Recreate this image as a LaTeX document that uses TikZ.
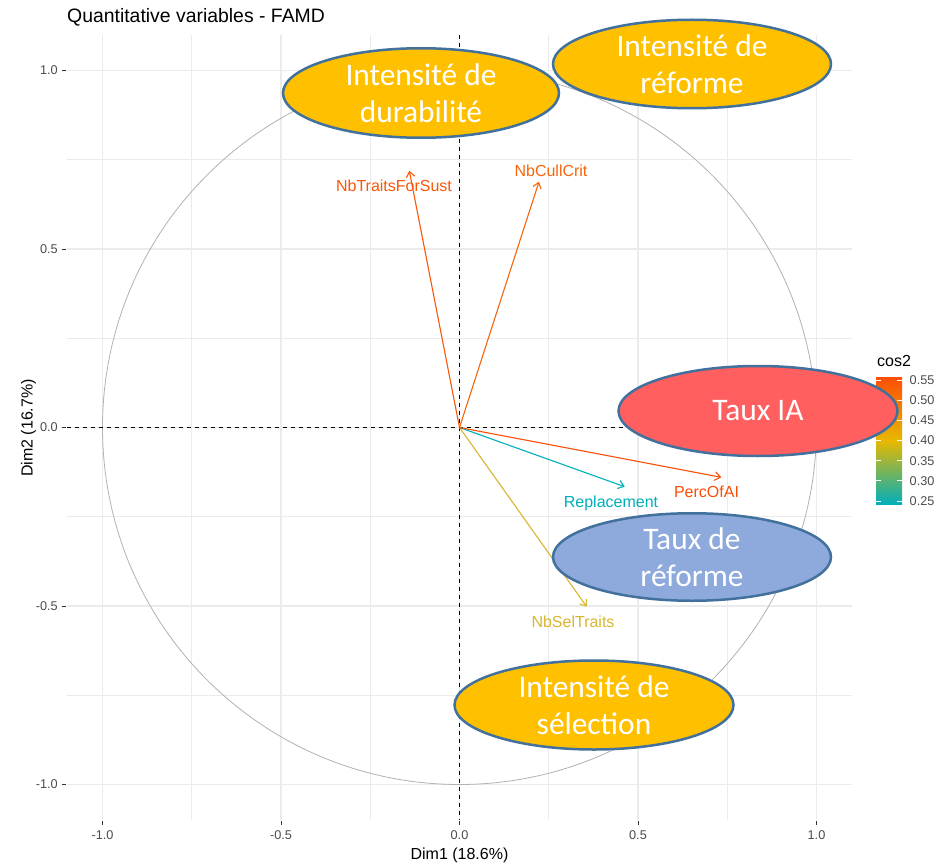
\documentclass[tikz,border=0pt]{standalone}
\usepackage{fontspec}
\setmainfont{Liberation Sans}
\newfontfamily\calib{Carlito}
\usetikzlibrary{arrows.meta,shapes.geometric}
\definecolor{cHigh}{HTML}{FC4E07}
\definecolor{cMid}{HTML}{E7B800}
\definecolor{cLow}{HTML}{00AFBB}
\definecolor{cTraits}{HTML}{F9560A}
\definecolor{cCull}{HTML}{F6650C}
\definecolor{cPerc}{HTML}{FC4E07}
\definecolor{cRepl}{HTML}{00AFBB}
\definecolor{cSel}{HTML}{D8B62F}
\definecolor{gridc}{gray}{0.92}
\definecolor{circc}{gray}{0.70}
\definecolor{ticklab}{gray}{0.30}
\definecolor{tickc}{gray}{0.20}
\definecolor{ellborder}{HTML}{41719C}
\definecolor{yel}{HTML}{FFC000}
\definecolor{redf}{HTML}{FF5F5F}
\definecolor{bluef}{HTML}{8EA9DB}
\tikzset{
  majorgrid/.style={draw=gridc, line width=1.2pt},
  minorgrid/.style={draw=gridc, line width=0.7pt},
  zeroaxis/.style={draw=black, line width=0.9pt, dash pattern=on 4pt off 4pt},
  vararrow/.style={line width=1.1pt, -{Straight Barb[length=5.5pt,width=8.5pt]}},
  varlab/.style={inner sep=0pt, anchor=base, font=\fontsize{16}{19}\selectfont},
  ticklabel/.style={inner sep=0pt, text=ticklab, font=\fontsize{12.7}{15}\selectfont},
  tickmark/.style={draw=tickc, line width=0.9pt},
  axtitle/.style={inner sep=0pt, anchor=base, font=\fontsize{16}{19}\selectfont},
  bubble/.style={ellipse, draw=ellborder, line width=2.5pt, inner sep=0pt,
    minimum width=279pt, minimum height=89pt, text=white, align=center,
    font=\calib\fontsize{31.4}{37.3}\selectfont},
  bartick/.style={draw=white, line width=0.9pt}
}
\begin{document}
\begin{tikzpicture}[x=1pt,y=-1pt]
\fill[white] (0,0) rectangle (940,864);
\useasboundingbox (0,0) rectangle (940,864);
% grid
\foreach \v in {-0.75,-0.25,0.25,0.75}{
  \draw[minorgrid] ({459.5+357*\v},34.8) -- ({459.5+357*\v},820.2);
  \draw[minorgrid] (66.8,{427.5-357*\v}) -- (852.2,{427.5-357*\v});
}
\foreach \v in {-1,-0.5,0,0.5,1}{
  \draw[majorgrid] ({459.5+357*\v},34.8) -- ({459.5+357*\v},820.2);
  \draw[majorgrid] (66.8,{427.5-357*\v}) -- (852.2,{427.5-357*\v});
}
% circle
\draw[circc, line width=0.8pt] (459.5,427.5) circle (357);
% zero axes
\draw[zeroaxis] (66.8,427.5) -- (852.2,427.5);
\draw[zeroaxis] (459.5,34.8) -- (459.5,820.2);
% ticks
\foreach \v/\t in {1/1.0,0.5/0.5,0/0.0,-0.5/-0.5,-1/-1.0}{
  \draw[tickmark] (61.5,{427.5-357*\v}) -- (65.5,{427.5-357*\v});
  \node[ticklabel, anchor=east] at (58,{427.5-357*\v}) {\t};
  \draw[tickmark] ({459.5+357*\v},821) -- ({459.5+357*\v},825);
  \node[ticklabel, anchor=base] at ({459.5+357*\v},839) {\t};
}
% axis titles
\node[axtitle] (xt) at (459.5,859) {Dim1 (18.6\%)};
\node[axtitle, rotate=90] (yt) at (32.5,428) {Dim2 (16.7\%)};
\node[inner sep=0pt, anchor=base west, font=\fontsize{19.4}{23}\selectfont] (title) at (67,22.5) {Quantitative variables - FAMD};
% arrows
\coordinate (O) at (459.5,427.5);
\coordinate (tTraits) at (409.3,170.7);
\coordinate (tCull) at (539,181.7);
\coordinate (tPerc) at (721.3,477.3);
\coordinate (tRepl) at (624.7,486.7);
\coordinate (tSel) at (586.7,606.7);
\draw[vararrow, cSel] (O) -- (tSel);
\draw[vararrow, cRepl] (O) -- (tRepl);
\draw[vararrow, cPerc] (O) -- (tPerc);
\draw[vararrow, cCull] (O) -- (tCull);
\draw[vararrow, cTraits] (O) -- (tTraits);
\node[varlab, text=cTraits] (lTraits) at (394,191.7) {NbTraitsForSust};
\node[varlab, text=cCull] (lCull) at (551,176) {NbCullCrit};
\node[varlab, text=cPerc] (lPerc) at (706.5,497.3) {PercOfAI};
\node[varlab, text=cRepl] (lRepl) at (611,507.3) {Replacement};
\node[varlab, text=cSel] (lSel) at (573,627.3) {NbSelTraits};
% legend
\node[inner sep=0pt, anchor=base west, font=\fontsize{16}{19}\selectfont] (legt) at (877,366.5) {cos2};
\shade[top color=cHigh, bottom color=cMid] (876,377.2) rectangle (902,440.7);
\shade[top color=cMid, bottom color=cLow] (876,440.7) rectangle (902,504.2);
\foreach \v/\t in {0.25/0.25,0.30/0.30,0.35/0.35,0.40/0.40,0.45/0.45,0.50/0.50,0.55/0.55}{
  \draw[bartick] (876,{380+(0.55-\v)*403.3}) -- (881,{380+(0.55-\v)*403.3});
  \draw[bartick] (897,{380+(0.55-\v)*403.3}) -- (902,{380+(0.55-\v)*403.3});
  \node[ticklabel, anchor=west] at (909.5,{380+(0.55-\v)*403.3}) {\t};
}
% bubbles
\node[bubble, fill=yel, minimum width=276pt, minimum height=89.5pt] (durab) at (421,93) {Intensité de\\durabilité};
\node[bubble, fill=yel, minimum width=278pt, minimum height=88.5pt] (refI) at (692,64) {Intensité de\\réforme};
\node[bubble, fill=redf, minimum height=90pt] (tia) at (758,411) {Taux IA};
\node[bubble, fill=bluef, minimum width=278pt, minimum height=87.5pt] (tref) at (692,557) {Taux de\\réforme};
\node[bubble, fill=yel] (sel) at (594,705) {Intensité de\\sélection};
\end{tikzpicture}
\end{document}
